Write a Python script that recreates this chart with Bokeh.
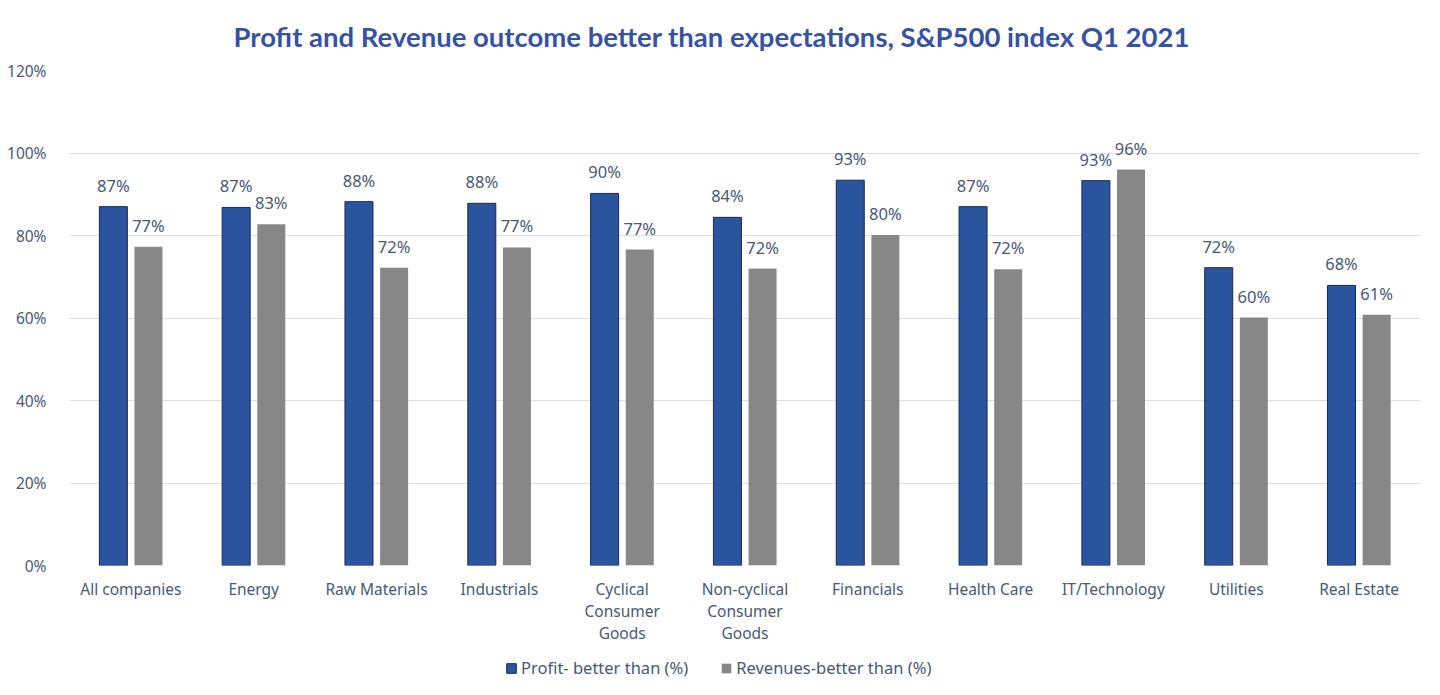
from bokeh.plotting import figure
from bokeh.layouts import column
from bokeh.models import ColumnDataSource, Legend, LegendItem, PrintfTickFormatter, FixedTicker, Range1d, Title
from bokeh.core.properties import value
from bokeh.embed import file_html
from bokeh.resources import INLINE

categories = ["All companies", "Energy", "Raw Materials", "Industrials",
              "Cyclical\nConsumer\nGoods", "Non-cyclical\nConsumer\nGoods",
              "Financials", "Health Care", "IT/Technology", "Utilities", "Real Estate"]
profit = [87.0, 86.8, 88.2, 87.8, 90.2, 84.4, 93.4, 87.0, 93.3, 72.2, 67.9]
revenue = [77.3, 82.7, 72.2, 77.1, 76.6, 72.0, 80.1, 71.8, 96.0, 60.1, 60.8]
y_ticks = [0, 20, 40, 60, 80, 100, 120]
series_names = ["Profit- better than (%)", "Revenues-better than (%)"]

TITLE = "Profit and Revenue outcome better than expectations, S&P500 index Q1 2021"
LABEL_COLOR = "#4a5875"
BLUE = "#2a559e"
GREY = "#878787"
FONT = "Noto Sans"

idx = list(range(len(categories)))
off = 0.143
src_p = ColumnDataSource(dict(x=[i - off for i in idx], top=profit,
                              lab=[f"{round(v)}%" for v in profit]))
src_r = ColumnDataSource(dict(x=[i + off for i in idx], top=revenue,
                              lab=[f"{round(v)}%" for v in revenue]))

p = figure(width=1440, height=650, output_backend="svg", toolbar_location=None,
           x_range=Range1d(-0.5, len(categories) - 0.5), y_range=Range1d(0, 120),
           min_border_left=69, min_border_right=20, min_border_top=70, min_border_bottom=85)
p.outline_line_color = None

rp = p.vbar(x="x", top="top", width=0.228, source=src_p, fill_color=BLUE,
            line_color="#162a55", line_width=1)
rr = p.vbar(x="x", top="top", width=0.228, source=src_r, fill_color=GREY, line_color=None)

for s in (src_p, src_r):
    p.text(x="x", y="top", text="lab", source=s, text_align="center", text_baseline="bottom",
           y_offset=-10, text_font=value(FONT), text_font_size="16.5px", text_color=LABEL_COLOR)

p.title = Title(text=TITLE, align="left", text_font="Lato", text_font_size="27.5px",
                text_font_style="bold", text_color="#3652a3", offset=164, standoff=35)

p.xaxis.ticker = FixedTicker(ticks=idx)
p.xaxis.major_label_overrides = {i: c for i, c in zip(idx, categories)}
p.xaxis.axis_line_color = None
p.xaxis.major_tick_line_color = None
p.xaxis.minor_tick_line_color = None
p.xaxis.major_label_standoff = 6
p.xaxis.major_label_text_font = FONT
p.xaxis.major_label_text_font_size = "15.5px"
p.xaxis.major_label_text_color = LABEL_COLOR
p.xaxis.major_label_text_line_height = 1.0

p.yaxis.ticker = FixedTicker(ticks=y_ticks)
p.yaxis.formatter = PrintfTickFormatter(format="%d%%")
p.yaxis.axis_line_color = None
p.yaxis.major_tick_line_color = None
p.yaxis.minor_tick_line_color = None
p.yaxis.major_label_standoff = 17
p.yaxis.major_label_text_font = FONT
p.yaxis.major_label_text_font_size = "15.5px"
p.yaxis.major_label_text_color = LABEL_COLOR

p.xgrid.grid_line_color = None
p.ygrid.ticker = FixedTicker(ticks=y_ticks)
p.ygrid.grid_line_color = "#dedede"
p.ygrid.grid_line_width = 1

# legend strip below the chart (swatch renderers sit outside the visible range)
lg = figure(width=1440, height=45, output_backend="svg", toolbar_location=None,
            x_range=Range1d(0, 1), y_range=Range1d(0, 1), min_border=0)
lg.outline_line_color = None
lg.axis.visible = False
lg.grid.visible = False
d1 = lg.vbar(x=[-5], top=[-5], width=0.1, fill_color=BLUE, line_color="#162a55")
d2 = lg.vbar(x=[-5], top=[-5], width=0.1, fill_color=GREY, line_color=None)
legend = Legend(items=[LegendItem(label=series_names[0], renderers=[d1]),
                       LegendItem(label=series_names[1], renderers=[d2])],
                orientation="horizontal", location=(436, 16), border_line_color=None,
                background_fill_alpha=0,
                label_text_font=FONT, label_text_font_size="16.5px", label_text_color=LABEL_COLOR,
                glyph_width=12, glyph_height=12, spacing=32, label_standoff=4, margin=0,
                padding=4)
lg.add_layout(legend, "center")

layout = column(p, lg, spacing=0)
open("out.html", "w").write(file_html(layout, INLINE))
